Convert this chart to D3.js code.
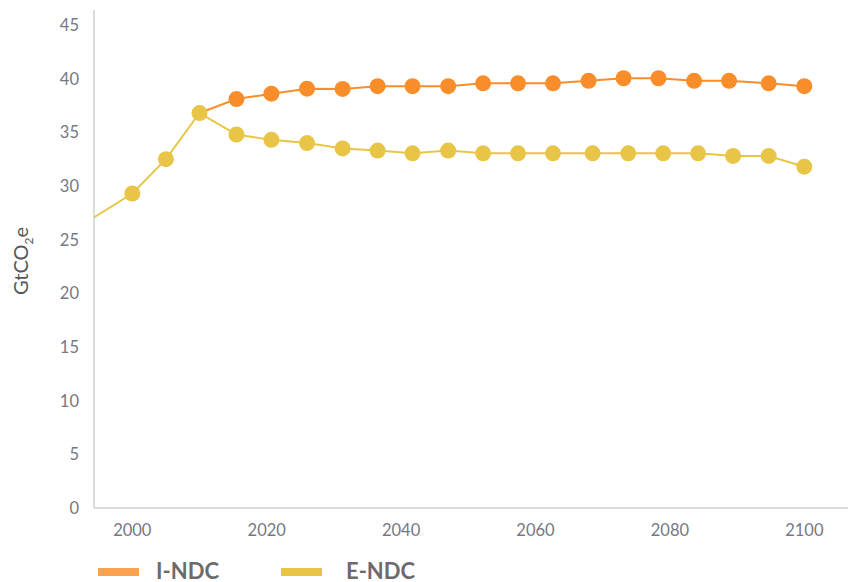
<!DOCTYPE html>
<html>
<head>
<meta charset="utf-8">
<script src="https://cdn.jsdelivr.net/npm/d3@7"></script>
<style>
  html, body { margin: 0; padding: 0; background: #fff; }
  svg { display: block; }
</style>
</head>
<body>
<svg id="chart" width="849" height="582"></svg>
<script>
// ---- data ----
const eNdcYears  = [1990, 2000, 2005, 2010, 2015.5, 2020.7, 2026, 2031.3, 2036.5, 2041.7, 2047, 2052.2, 2057.4, 2062.6, 2068.5, 2073.8, 2079, 2084.2, 2089.4, 2094.7, 2100];
const eNdcValues = [25.4, 29.3, 32.5, 36.8, 34.8, 34.3, 34.0, 33.5, 33.3, 33.05, 33.3, 33.05, 33.05, 33.05, 33.05, 33.05, 33.05, 33.05, 32.8, 32.8, 31.8];
const iNdcYears  = [2010, 2015.5, 2020.7, 2026, 2031.3, 2036.5, 2041.7, 2047, 2052.2, 2057.4, 2062.6, 2067.9, 2073.1, 2078.3, 2083.6, 2088.8, 2094.7, 2100];
const iNdcValues = [36.8, 38.1, 38.6, 39.07, 39.05, 39.3, 39.3, 39.3, 39.57, 39.57, 39.57, 39.8, 40.04, 40.04, 39.8, 39.8, 39.57, 39.3];
const xTicks = [2000, 2020, 2040, 2060, 2080, 2100];
const yTicks = [0, 5, 10, 15, 20, 25, 30, 35, 40, 45];
const seriesNames = ["I-NDC", "E-NDC"];

(function () {
// ---- styles ----
const ORANGE = "#F98D29", ORANGE_LEG = "#FBA24E", YELLOW = "#E8C547";
const FONT = "Lato, 'Open Sans', sans-serif";

const svg = d3.select("#chart");
const pLeft = 94, pRight = 848, pTop = 10, pBottom = 508;

const x = d3.scaleLinear().domain([1994.3, 2106.5]).range([pLeft, pRight]);
const y = d3.scaleLinear().domain([0, 46.4]).range([pBottom, pTop]);

svg.append("defs").append("clipPath").attr("id", "clip")
  .append("rect").attr("x", pLeft).attr("y", 0).attr("width", pRight - pLeft).attr("height", pBottom);

// axes lines
svg.append("line").attr("x1", pLeft).attr("x2", pLeft).attr("y1", pTop).attr("y2", pBottom)
  .attr("stroke", "#cfcfcf").attr("stroke-width", 1.5);
svg.append("line").attr("x1", pLeft).attr("x2", pRight).attr("y1", pBottom).attr("y2", pBottom)
  .attr("stroke", "#cfcfcf").attr("stroke-width", 1.5);

// y tick labels
svg.append("g").selectAll("text").data(yTicks).join("text")
  .attr("x", 79).attr("y", d => y(d)).attr("dy", "0.36em")
  .attr("text-anchor", "end")
  .attr("font-family", FONT).attr("font-size", 16.5).attr("fill", "#777782")
  .text(d => d);

// x tick labels
svg.append("g").selectAll("text").data(xTicks).join("text")
  .attr("x", d => x(d)).attr("y", 536)
  .attr("text-anchor", "middle")
  .attr("font-family", FONT).attr("font-size", 16.5).attr("fill", "#777782")
  .text(d => d);

// y-axis title
const yt = svg.append("text")
  .attr("transform", "translate(28,261) rotate(-90)")
  .attr("text-anchor", "middle")
  .attr("font-family", FONT).attr("font-size", 20).attr("fill", "#555");
yt.append("tspan").text("GtCO");
yt.append("tspan").attr("font-size", 12).attr("dy", 5).text("2");
yt.append("tspan").attr("dy", -5).text("e");

// series
const plot = svg.append("g").attr("clip-path", "url(#clip)");
const line = d3.line().x(d => x(d[0])).y(d => y(d[1]));

function drawSeries(years, values, color, skipFirstMarker) {
  const pts = years.map((yr, i) => [yr, values[i]]);
  plot.append("path").datum(pts)
    .attr("d", line).attr("fill", "none")
    .attr("stroke", color).attr("stroke-width", 2);
  plot.append("g").selectAll("circle").data(skipFirstMarker ? pts.slice(1) : pts).join("circle")
    .attr("cx", d => x(d[0])).attr("cy", d => y(d[1])).attr("r", 8)
    .attr("fill", color);
}
drawSeries(iNdcYears, iNdcValues, ORANGE, true);
drawSeries(eNdcYears, eNdcValues, YELLOW, false);

// legend
const legend = [
  { name: seriesNames[0], color: ORANGE_LEG, rx: 98, tx: 156 },
  { name: seriesNames[1], color: YELLOW, rx: 281, tx: 346 }
];
const lg = svg.append("g").selectAll("g").data(legend).join("g");
lg.append("rect").attr("x", d => d.rx).attr("y", 568).attr("width", 41).attr("height", 8)
  .attr("fill", d => d.color);
lg.append("text").attr("x", d => d.tx).attr("y", 579)
  .attr("font-family", FONT).attr("font-size", 22).attr("font-weight", "bold").attr("fill", "#6b6b6b")
  .text(d => d.name);
})();
</script>
</body>
</html>
